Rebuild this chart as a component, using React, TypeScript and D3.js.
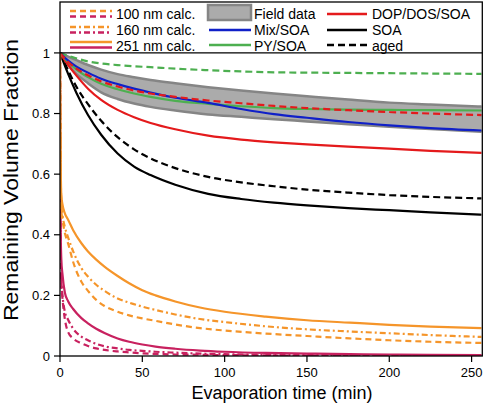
import React from 'react';
import * as d3 from 'd3';

// ---------- data ----------
const slowTimes = [0, 5, 10, 17, 25, 35, 45, 55, 70, 90, 110, 130, 150, 175, 200, 225, 256];
const fieldUpper = [1, 0.988, 0.976, 0.96, 0.945, 0.93, 0.92, 0.911, 0.9, 0.887, 0.876, 0.866, 0.857, 0.846, 0.836, 0.83, 0.823];
const fieldLower = [1, 0.96, 0.93, 0.9, 0.87, 0.848, 0.833, 0.822, 0.81, 0.797, 0.789, 0.781, 0.774, 0.765, 0.756, 0.749, 0.74];
const soa = [1, 0.93, 0.868, 0.795, 0.73, 0.668, 0.625, 0.597, 0.565, 0.535, 0.518, 0.506, 0.497, 0.488, 0.481, 0.474, 0.466];
const soaAged = [1, 0.942, 0.888, 0.831, 0.776, 0.722, 0.682, 0.652, 0.62, 0.591, 0.573, 0.56, 0.549, 0.539, 0.531, 0.525, 0.52];
const dopSoa = [1, 0.96, 0.925, 0.882, 0.845, 0.812, 0.788, 0.769, 0.748, 0.727, 0.714, 0.705, 0.698, 0.691, 0.684, 0.677, 0.67];
const dopSoaAged = [1, 0.97, 0.948, 0.926, 0.906, 0.889, 0.876, 0.866, 0.855, 0.843, 0.834, 0.825, 0.818, 0.811, 0.805, 0.8, 0.795];
const mixSoa = [1, 0.975, 0.955, 0.935, 0.915, 0.897, 0.882, 0.869, 0.852, 0.835, 0.815, 0.798, 0.786, 0.772, 0.761, 0.752, 0.744];
const pySoa = [1, 0.97, 0.945, 0.92, 0.898, 0.88, 0.866, 0.855, 0.842, 0.832, 0.824, 0.818, 0.815, 0.813, 0.812, 0.811, 0.81];
const pySoaAged = [1, 0.99, 0.982, 0.972, 0.965, 0.96, 0.956, 0.953, 0.948, 0.943, 0.939, 0.936, 0.935, 0.934, 0.933, 0.932, 0.931];

const fastTimes = [0, 0.15, 0.4, 0.8, 1.5, 3, 5, 8, 13, 17, 22, 27, 35, 42, 50, 58, 70, 85, 100, 125, 150, 176, 200, 225, 256];
const orange251 = [1, 0.85, 0.66, 0.53, 0.5, 0.47, 0.449, 0.415, 0.372, 0.345, 0.318, 0.295, 0.264, 0.24, 0.217, 0.2, 0.18, 0.16, 0.146, 0.13, 0.118, 0.11, 0.103, 0.097, 0.092];
const orange160 = [1, 0.84, 0.64, 0.5, 0.465, 0.425, 0.39, 0.345, 0.29, 0.262, 0.235, 0.215, 0.19, 0.176, 0.163, 0.152, 0.137, 0.122, 0.112, 0.098, 0.088, 0.081, 0.075, 0.069, 0.063];
const orange100 = [1, 0.83, 0.62, 0.48, 0.45, 0.405, 0.37, 0.31, 0.245, 0.215, 0.185, 0.165, 0.146, 0.134, 0.124, 0.116, 0.104, 0.092, 0.084, 0.074, 0.066, 0.058, 0.052, 0.047, 0.043];
const pink251 = [1, 0.66, 0.42, 0.32, 0.27, 0.208, 0.18, 0.155, 0.125, 0.108, 0.09, 0.076, 0.058, 0.047, 0.038, 0.031, 0.024, 0.018, 0.014, 0.01, 0.008, 0.006, 0.005, 0.004, 0.003];
const pink160 = [1, 0.6, 0.36, 0.25, 0.2, 0.145, 0.119, 0.09, 0.064, 0.052, 0.04, 0.032, 0.025, 0.02, 0.017, 0.014, 0.011, 0.008, 0.006, 0.004, 0.003, 0.002, 0.002, 0.001, 0.001];
const pink100 = [1, 0.58, 0.33, 0.24, 0.19, 0.12, 0.078, 0.058, 0.042, 0.033, 0.025, 0.02, 0.015, 0.012, 0.009, 0.007, 0.005, 0.004, 0.003, 0.002, 0.001, 0.001, 0.001, 0, 0];

const xTicks = [0, 50, 100, 150, 200, 250];
const yTicks = [0, 0.2, 0.4, 0.6, 0.8, 1];
const yTickLabels = ['0', '0.2', '0.4', '0.6', '0.8', '1'];

const legendCol1 = ['100 nm calc.', '160 nm calc.', '251 nm calc.'];
const legendCol2 = ['Field data', 'Mix/SOA', 'PY/SOA'];
const legendCol3 = ['DOP/DOS/SOA', 'SOA', 'aged'];

// ---------- styles ----------
const ORANGE = '#F5952A';
const PINK = '#C8215F';
const RED = '#E41A1C';
const BLUE = '#1020C8';
const GREEN = '#4DAF50';
const BLACK = '#000000';
const DASH = '7,4';
const DASH_ORANGE = '6,4';
const DASH_DOT = '6,3,2,3';
const FONT = 'Arial, "Liberation Sans", Helvetica, sans-serif';

export default function App() {
  const W = 486, H = 408;
  const left = 60, right = 482.3, top = 2, bottom = 356;
  const x = d3.scaleLinear().domain([0, 256.5]).range([left, right]);
  const y = d3.scaleLinear().domain([0, 1.168]).range([bottom, top]);

  const mk = (ts: number[], vs: number[]) =>
    d3.line<number>().x((_, i) => x(ts[i])).y((d) => y(d)).curve(d3.curveMonotoneX)(vs) || '';

  const area = d3.area<number>()
    .x((_, i) => x(slowTimes[i]))
    .y0((_, i) => y(fieldLower[i]))
    .y1((d) => y(d))
    .curve(d3.curveMonotoneX)(fieldUpper) || '';

  const series: { d: string; color: string; dash?: string; w?: number }[] = [
    { d: mk(slowTimes, pySoaAged), color: GREEN, dash: DASH },
    { d: mk(slowTimes, soa), color: BLACK },
    { d: mk(slowTimes, soaAged), color: BLACK, dash: DASH },
    { d: mk(slowTimes, dopSoa), color: RED },
    { d: mk(slowTimes, pySoa), color: GREEN },
    { d: mk(slowTimes, mixSoa), color: BLUE },
    { d: mk(slowTimes, dopSoaAged), color: RED, dash: DASH },
    { d: mk(fastTimes, pink100), color: PINK, dash: DASH_ORANGE },
    { d: mk(fastTimes, pink160), color: PINK, dash: DASH_DOT },
    { d: mk(fastTimes, pink251), color: PINK },
    { d: mk(fastTimes, orange100), color: ORANGE, dash: DASH_ORANGE },
    { d: mk(fastTimes, orange160), color: ORANGE, dash: DASH_DOT },
    { d: mk(fastTimes, orange251), color: ORANGE },
  ];

  const rowY = [14, 30, 45];
  const textY = [19, 35, 50.5];

  return (
    <svg width={W} height={H} style={{ position: 'absolute', left: 0, top: 0 }} fontFamily={FONT}>
      <defs>
        <clipPath id="plotClip">
          <rect x={left} y={top} width={right - left} height={bottom - top} />
        </clipPath>
      </defs>
      <rect x={0} y={0} width={W} height={H} fill="#fff" />

      <g clipPath="url(#plotClip)">
        <path d={area} fill="#ABABAB" stroke="none" />
        <path d={mk(slowTimes, fieldUpper)} fill="none" stroke="#858585" strokeWidth={2.5} />
        <path d={mk(slowTimes, fieldLower)} fill="none" stroke="#858585" strokeWidth={2.5} />
        {series.map((s, i) => (
          <path key={i} d={s.d} fill="none" stroke={s.color} strokeWidth={s.w ?? 2.2} strokeDasharray={s.dash} />
        ))}
      </g>

      {/* frame */}
      <rect x={left} y={top} width={right - left} height={bottom - top} fill="none" stroke="#000" strokeWidth={1.3} />
      <line x1={left} x2={right} y1={y(1)} y2={y(1)} stroke="#000" strokeWidth={1.3} />

      {/* x ticks */}
      {xTicks.map((t) => (
        <g key={t}>
          <line x1={x(t)} x2={x(t)} y1={bottom} y2={bottom + 6} stroke="#000" strokeWidth={1.2} />
          <text x={x(t)} y={377} fontSize={13} textAnchor="middle">{t}</text>
        </g>
      ))}
      {/* y ticks */}
      {yTicks.map((t, i) => (
        <g key={t}>
          <line x1={left - 6} x2={left} y1={y(t)} y2={y(t)} stroke="#000" strokeWidth={1.2} />
          <text x={50} y={y(t) + 4.6} fontSize={13} textAnchor="end">{yTickLabels[i]}</text>
        </g>
      ))}

      <text x={282} y={399} fontSize={18} textAnchor="middle">Evaporation time (min)</text>
      <text transform={`translate(18,180) rotate(-90)`} fontSize={20} textAnchor="middle" textLength={282} lengthAdjust="spacingAndGlyphs">Remaining Volume Fraction</text>

      {/* legend col 1 */}
      {legendCol1.map((label, i) => {
        const dash = i === 0 ? DASH_ORANGE : i === 1 ? DASH_DOT : undefined;
        return (
          <g key={label}>
            <line x1={70} x2={112} y1={rowY[i] - 3} y2={rowY[i] - 3} stroke={ORANGE} strokeWidth={2.4} strokeDasharray={dash} />
            <line x1={70} x2={112} y1={rowY[i] + 2.5} y2={rowY[i] + 2.5} stroke={PINK} strokeWidth={2.4} strokeDasharray={dash} />
            <text x={116} y={textY[i]} fontSize={14}>{label}</text>
          </g>
        );
      })}
      {/* legend col 2 */}
      <rect x={208} y={5} width={43} height={15} fill="#ABABAB" stroke="#858585" strokeWidth={2.5} />
      <line x1={209} x2={251} y1={rowY[1]} y2={rowY[1]} stroke={BLUE} strokeWidth={2.4} />
      <line x1={209} x2={251} y1={rowY[2]} y2={rowY[2]} stroke={GREEN} strokeWidth={2.4} />
      {legendCol2.map((label, i) => (
        <text key={label} x={254} y={textY[i]} fontSize={14}>{label}</text>
      ))}
      {/* legend col 3 */}
      <line x1={327} x2={367} y1={rowY[0]} y2={rowY[0]} stroke={RED} strokeWidth={2.4} />
      <line x1={327} x2={367} y1={rowY[1]} y2={rowY[1]} stroke={BLACK} strokeWidth={2.4} />
      <line x1={327} x2={367} y1={rowY[2]} y2={rowY[2]} stroke={BLACK} strokeWidth={2.4} strokeDasharray={DASH} />
      {legendCol3.map((label, i) => (
        <text key={label} x={372} y={textY[i]} fontSize={14}>{label}</text>
      ))}
    </svg>
  );
}
